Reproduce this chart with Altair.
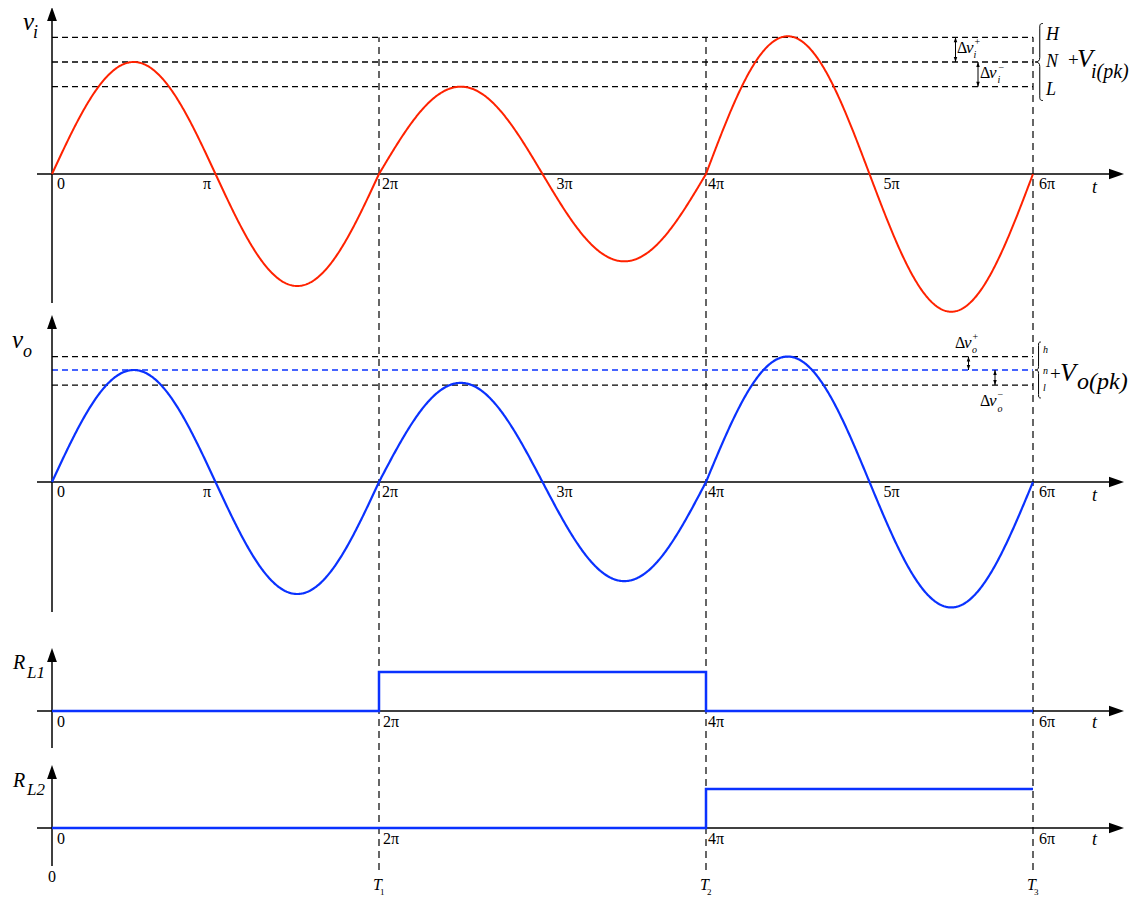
import numpy as np
import pandas as pd
import altair as alt

# ---------------- values ----------------
vi_amp = [1.00, 0.78, 1.23]           # v_i peak in each 2π period (N = 1)
vo_amp = [1.00, 0.885, 1.12]          # v_o peak in each 2π period (n = 1)
vi_level_names = ["H", "N", "L"]
vi_levels = [1.22, 1.00, 0.78]
vo_level_names = ["h", "n", "l"]
vo_levels = [1.12, 1.00, 0.865]
rl1_t = [0, 2, 4, 6]
rl1_state = [0, 1, 0, 0]
rl2_t = [0, 4, 6]
rl2_state = [0, 1, 1]
tick_pos_main = [0, 1, 2, 3, 4, 5, 6]          # in units of π
tick_lab_main = ["0", "π", "2π", "3π", "4π", "5π", "6π"]
tick_pos_rl = [0, 2, 4, 6]
tick_lab_rl = ["0", "2π", "4π", "6π"]
switch_pos = [2, 4, 6]
switch_sub = ["1", "2", "3"]

# ---------------- layout ----------------
W, H = 1126, 889
PPI = 163.5            # pixels per π along t
T0 = 44                # plot x of t = 0
U = 112                # vertical units per nominal peak
RLH = 39               # height of the R_L "on" state
RED, BLUE = "#ff2200", "#0a32ff"
FONT = "Liberation Serif"
off_main = [5, -12.5, 3, 14, 2, 14, 6]
off_rl = [5, 4, 2, 6]

xs = alt.Scale(domain=[-T0 / PPI, (W - T0) / PPI], nice=False, zero=False)
ys = alt.Scale(domain=[0, H], nice=False, zero=False)


def gx(xp):  # page x -> t/π
    return (xp - 52) / PPI


def gy(yp):  # page y -> vertical units
    return 8 + H - yp


BASE = {"vi": gy(174), "vo": gy(482), "rl1": gy(711), "rl2": gy(828)}


def XY(ch, x="x", y="y"):
    return ch.encode(x=alt.X(f"{x}:Q", scale=xs, axis=None),
                     y=alt.Y(f"{y}:Q", scale=ys, axis=None))


def rules(rows, **mk):
    df = pd.DataFrame(rows, columns=["x", "x2", "y", "y2"])
    return alt.Chart(df).mark_rule(**mk).encode(
        x=alt.X("x:Q", scale=xs, axis=None), x2="x2",
        y=alt.Y("y:Q", scale=ys, axis=None), y2="y2")


def texts(rows, size, italic=False, align="left", color="black"):
    df = pd.DataFrame(rows, columns=["x", "y", "s"])
    ch = alt.Chart(df).mark_text(font=FONT, fontSize=size,
                                 fontStyle="italic" if italic else "normal",
                                 align=align, baseline="alphabetic", color=color)
    return XY(ch).encode(text="s:N")


def points(rows, shape, size, filled=True, sw=1):
    df = pd.DataFrame(rows, columns=["x", "y"])
    ch = alt.Chart(df).mark_point(shape=shape, size=size, filled=filled,
                                  color="black", opacity=1, strokeWidth=sw)
    return XY(ch)


def wave(amps, base):
    t = np.linspace(0, 6, 1201)
    idx = np.minimum((t // 2).astype(int), 2)
    a = np.array(amps)[idx]
    return pd.DataFrame({"x": t, "y": base + U * a * np.sin(np.pi * t)})


layers = []

# vertical dashed switching lines
top = BASE["vi"] + vi_levels[0] * U
layers.append(rules([[p, p, gy(870), top] for p in switch_pos],
                    color="black", strokeWidth=1.2, strokeDash=[7, 5]))

# level dashed lines
layers.append(rules([[0, 6, BASE["vi"] + v * U, BASE["vi"] + v * U] for v in vi_levels],
                    color="black", strokeWidth=1.3, strokeDash=[6, 4]))
layers.append(rules([[0, 6, BASE["vo"] + v * U, BASE["vo"] + v * U]
                     for n, v in zip(vo_level_names, vo_levels) if n != "n"],
                    color="black", strokeWidth=1.3, strokeDash=[6, 4]))
layers.append(rules([[0, 6, BASE["vo"] + v * U, BASE["vo"] + v * U]
                     for n, v in zip(vo_level_names, vo_levels) if n == "n"],
                    color=BLUE, strokeWidth=1.3, strokeDash=[6, 4]))

# axes (solid)
ax_ext = {"vi": (-129, 155), "vo": (-130, 155), "rl1": (-37, 52), "rl2": (-38, 52)}
tip_up = {"vi": 167, "vo": 167, "rl1": 63, "rl2": 63}
axis_rows = []
for k, b in BASE.items():
    axis_rows.append([gx(37), gx(1110), b, b])
    lo, hi = ax_ext[k]
    axis_rows.append([0, 0, b + lo, b + hi])
layers.append(rules(axis_rows, color="black", strokeWidth=1.5))

# arrow heads
UP = "M-0.7,1L0,-1L0.7,1Z"
DOWN = "M-0.7,-1L0,1L0.7,-1Z"
RIGHT = "M-1,-0.7L1,0L-1,0.7Z"
layers.append(points([[0, BASE[k] + tip_up[k] - 7] for k in BASE], UP, 196))
layers.append(points([[gx(1116.5), BASE[k]] for k in BASE], RIGHT, 225))

# waves
layers.append(XY(alt.Chart(wave(vi_amp, BASE["vi"])).mark_line(color=RED, strokeWidth=2)))
layers.append(XY(alt.Chart(wave(vo_amp, BASE["vo"])).mark_line(color=BLUE, strokeWidth=2.2)))

# R_L step signals
rl1 = pd.DataFrame({"x": rl1_t, "y": [BASE["rl1"] + s * RLH for s in rl1_state]})
rl2 = pd.DataFrame({"x": rl2_t, "y": [BASE["rl2"] + s * RLH for s in rl2_state]})
layers.append(XY(alt.Chart(rl1).mark_line(color=BLUE, strokeWidth=2.5, interpolate="step-after")))
layers.append(XY(alt.Chart(rl2).mark_line(color=BLUE, strokeWidth=2.5, interpolate="step-after")))

# tick labels
tick_rows = []
for k in ["vi", "vo"]:
    for p, l, o in zip(tick_pos_main, tick_lab_main, off_main):
        tick_rows.append([p + o / PPI, BASE[k] - 15, l])
for k in ["rl1", "rl2"]:
    for p, l, o in zip(tick_pos_rl, tick_lab_rl, off_rl):
        tick_rows.append([p + o / PPI, BASE[k] - 16, l])
tick_rows.append([gx(48), gy(882), "0"])
layers.append(texts(tick_rows, 16))

# t labels
layers.append(texts([[gx(1092), BASE[k] - (19 if k in ("vi", "vo") else 17), "t"] for k in BASE], 18, italic=True))

# panel labels
layers.append(texts([[gx(23), gy(30), "v"], [gx(12), gy(348), "v"]], 25, italic=True))
layers.append(texts([[gx(33), gy(38), "i"], [gx(23), gy(357), "o"]], 18, italic=True))
layers.append(texts([[gx(13), gy(669), "R"], [gx(13), gy(787), "R"]], 20, italic=True))
layers.append(texts([[gx(27), gy(678), "L1"], [gx(27), gy(795), "L2"]], 17, italic=True))

# switching instants
layers.append(texts([[p - 6 / PPI, gy(890), "T"] for p in switch_pos], 16, italic=True))
layers.append(texts([[p + 1 / PPI, gy(895), s] for p, s in zip(switch_pos, switch_sub)], 9))

# delta annotations: double arrows
lv = {n: BASE["vi"] + v * U for n, v in zip(vi_level_names, vi_levels)}
lo_ = {n: BASE["vo"] + v * U for n, v in zip(vo_level_names, vo_levels)}
d_arrows = [(gx(955.5), lv["H"], lv["N"]), (gx(978), lv["N"], lv["L"]),
            (gx(968.5), lo_["h"], lo_["n"]), (gx(995), lo_["n"], lo_["l"])]
layers.append(rules([[x, x, y1, y2] for x, y1, y2 in d_arrows], color="black", strokeWidth=1))
layers.append(points([[x, y1 - 2.5] for x, y1, y2 in d_arrows], UP, 25))
layers.append(points([[x, y2 + 2.5] for x, y1, y2 in d_arrows], DOWN, 25))

# delta annotation texts
layers.append(texts([[gx(957), gy(53), "Δ"], [gx(980), gy(78), "Δ"],
                     [gx(955), gy(348), "Δ"], [gx(980), gy(406), "Δ"]], 16))
layers.append(texts([[gx(966), gy(53), "v"], [gx(989), gy(78), "v"],
                     [gx(964), gy(348), "v"], [gx(989), gy(406), "v"]], 17, italic=True))
layers.append(texts([[gx(974.5), gy(45), "+"], [gx(998.5), gy(71), "−"],
                     [gx(972.5), gy(340), "+"], [gx(997.5), gy(398), "−"]], 10))
layers.append(texts([[gx(973.5), gy(58), "i"], [gx(997.5), gy(83), "i"],
                     [gx(972), gy(353), "o"], [gx(997.5), gy(412), "o"]], 10, italic=True))

# braces
BRACE = ("M0.1,-1C0.02,-1 0.02,-0.96 0.02,-0.88L0.02,-0.12C0.02,-0.03 -0.02,0 -0.1,0"
         "C-0.02,0 0.02,0.03 0.02,0.12L0.02,0.88C0.02,0.96 0.02,1 0.1,1")
layers.append(points([[gx(1039), gy(62)]], BRACE, 77 * 77, filled=False))
layers.append(points([[gx(1038), gy(370)]], BRACE, 56 * 56, filled=False))

# level letters
layers.append(texts([[gx(1046), gy(40), "H"], [gx(1046), gy(67), "N"], [gx(1046), gy(95), "L"]], 18, italic=True))
layers.append(texts([[gx(1043), gy(353), "h"], [gx(1043), gy(374), "n"], [gx(1043), gy(391), "l"]], 10, italic=True))

# peak labels
layers.append(texts([[gx(1068), gy(66), "+"], [gx(1050), gy(380), "+"]], 19))
layers.append(texts([[gx(1077), gy(67), "V"], [gx(1060), gy(381), "V"]], 26, italic=True))
layers.append(texts([[gx(1091), gy(78), "i(pk)"]], 20, italic=True))
layers.append(texts([[gx(1077), gy(389), "o(pk)"]], 24, italic=True))

chart = alt.layer(*layers).properties(
    width=W, height=H,
    autosize=alt.AutoSizeParams(type="none"),
    padding=0,
).configure_view(stroke=None)

chart.save("out.html", embed_options={"renderer": "svg", "actions": False})
